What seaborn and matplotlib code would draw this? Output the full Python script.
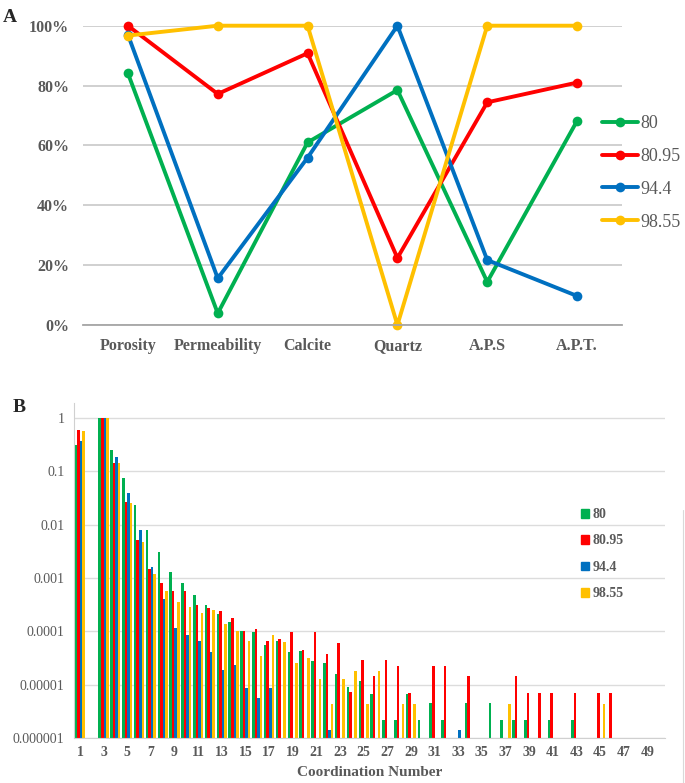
import numpy as np
import pandas as pd
import matplotlib.pyplot as plt
import seaborn as sns
from matplotlib.patches import Patch
from matplotlib.lines import Line2D
from matplotlib.ticker import PercentFormatter

# panel A data (fraction of max per property)
properties = ['Porosity', 'Permeability', 'Calcite', 'Quartz', 'A.P.S', 'A.P.T.']
series = ['80', '80.95', '94.4', '98.55']
colors = ['#00B050', '#FF0000', '#0070C0', '#FFC000']

a_80 = [0.841, 0.039, 0.610, 0.785, 0.144, 0.682]
a_8095 = [1.000, 0.772, 0.908, 0.224, 0.744, 0.810]
a_944 = [0.970, 0.156, 0.559, 1.000, 0.217, 0.097]
a_9855 = [0.967, 1.000, 1.000, 0.000, 1.000, 1.000]

# panel B data: coordination number -> frequency
coord = list(range(1, 51))
b_80 = {1: 0.31, 3: 1.0, 4: 0.25, 5: 0.074, 6: 0.023, 7: 0.0079, 8: 0.0031, 9: 0.0013,
        10: 0.0008, 11: 0.00048, 12: 0.00031, 13: 0.00021, 14: 0.000148, 15: 0.0001,
        16: 0.000097, 17: 0.000056, 18: 0.000065, 19: 0.000041, 20: 0.000043, 21: 0.000028,
        22: 0.000026, 23: 0.000016, 24: 0.000009, 25: 0.0000115, 26: 0.0000068, 27: 2.2e-6,
        28: 2.2e-6, 29: 6.8e-6, 30: 2.2e-6, 31: 4.5e-6, 32: 2.2e-6, 34: 4.5e-6, 36: 4.5e-6,
        37: 2.2e-6, 38: 2.2e-6, 39: 2.2e-6, 41: 2.2e-6, 43: 2.2e-6}
b_8095 = {1: 0.60, 3: 1.0, 4: 0.145, 5: 0.026, 6: 0.0051, 7: 0.0015, 8: 0.0008, 9: 0.00058,
          10: 0.00058, 11: 0.00031, 12: 0.00027, 13: 0.00024, 14: 0.000174, 15: 0.0001,
          16: 0.00011, 17: 0.000065, 18: 0.000073, 19: 0.000096, 20: 0.000044, 21: 0.000096,
          22: 0.000037, 23: 0.00006, 24: 7.3e-6, 25: 2.9e-5, 26: 1.48e-5, 27: 2.9e-5,
          28: 2.2e-5, 29: 7.1e-6, 31: 2.2e-5, 32: 2.2e-5, 34: 1.48e-5, 38: 1.48e-5,
          39: 7.1e-6, 40: 7.1e-6, 41: 7.1e-6, 43: 7.1e-6, 45: 7.1e-6, 46: 7.1e-6}
b_944 = {1: 0.37, 3: 1.0, 4: 0.185, 5: 0.039, 6: 0.0079, 7: 0.0016, 8: 0.00041, 9: 0.000115,
         10: 0.000085, 11: 0.000065, 12: 0.000041, 13: 0.000019, 14: 0.000023, 15: 8.7e-6,
         16: 5.7e-6, 17: 8.7e-6, 22: 1.4e-6, 33: 1.4e-6}
b_9855 = {1: 0.57, 3: 1.0, 4: 0.145, 5: 0.025, 6: 0.0048, 7: 0.0012, 8: 0.00056, 9: 0.00036,
          10: 0.00029, 11: 0.00022, 12: 0.00025, 13: 0.000135, 14: 0.000102, 15: 0.000065,
          16: 0.000035, 17: 0.000087, 18: 0.000062, 19: 0.000026, 20: 0.000031, 21: 0.000013,
          22: 4.4e-6, 23: 1.3e-5, 24: 1.8e-5, 25: 4.4e-6, 26: 1.8e-5, 28: 4.4e-6, 29: 4.4e-6,
          37: 4.4e-6, 45: 4.4e-6}

sns.set_style('white')
plt.rcParams['font.family'] = ['Liberation Serif', 'DejaVu Serif']
gray_txt = '#595959'

# long tables
dfa = pd.DataFrame({'pos': list(range(len(properties))) * 4,
                    'value': a_80 + a_8095 + a_944 + a_9855,
                    'series': np.repeat(series, len(properties))})

rows = []
for s, d in zip(series, [b_80, b_8095, b_944, b_9855]):
    for c in coord:
        if c in d:
            rows.append({'cn': str(c), 'freq': d[c], 'series': s})
dfb = pd.DataFrame(rows)

fig = plt.figure(figsize=(6.85, 7.83), dpi=100)
W, H = 685, 783

# ---- panel A
ax1 = fig.add_axes([83 / W, 1 - 325 / H, 539 / W, 299.3 / H])
sns.lineplot(data=dfa, x='pos', y='value', hue='series', hue_order=series, palette=colors,
             marker='o', markersize=7, markeredgewidth=0, linewidth=2.8, ax=ax1,
             clip_on=False, legend=False)
ax1.set_xlim(-0.5, len(properties) - 0.5)
ax1.set_ylim(0, 1)
ax1.set_yticks(np.arange(0, 1.01, 0.2))
ax1.yaxis.set_major_formatter(PercentFormatter(1.0, decimals=0))
ax1.set_xticks(range(len(properties)))
ax1.set_xticklabels(properties)
ax1.grid(axis='y', color='#C8C8C8', linewidth=1.2)
ax1.set_axisbelow(True)
for sp in ['left', 'right', 'top']:
    ax1.spines[sp].set_visible(False)
ax1.spines['bottom'].set_color('#A6A6A6')
ax1.spines['bottom'].set_linewidth(1.3)
ax1.tick_params(axis='both', length=0, labelcolor=gray_txt, labelsize=11.5)
ax1.tick_params(axis='x', pad=18)
ax1.tick_params(axis='y', pad=10)
for t in ax1.get_xticklabels():
    t.set_fontweight('bold')
    t.set_verticalalignment('baseline')
for t in ax1.get_yticklabels():
    t.set_fontweight('bold')
ax1.set_xlabel('')
ax1.set_ylabel('')

handles_a = [Line2D([], [], color=c, marker='o', markersize=7, linewidth=2.8,
                    markeredgewidth=0) for c in colors]
leg1 = fig.legend(handles_a, series, loc='upper left', bbox_to_anchor=(602 / W, 1 - 115 / H),
                  frameon=False, fontsize=13, handlelength=2.0, handletextpad=0.1,
                  labelspacing=0.88, labelcolor=gray_txt, borderpad=0, borderaxespad=0)

fig.text(3 / W, 1 - 18 / H, 'A', fontsize=14, fontweight='bold', va='center')

# ---- panel B (log frequency axis)
ax2 = fig.add_axes([74 / W, 1 - 738 / H, 591 / W, 335 / H])
sns.barplot(data=dfb, x='cn', y='freq', hue='series', order=[str(c) for c in coord],
            hue_order=series, palette=colors, width=0.86, gap=0,
            saturation=1, errorbar=None, edgecolor='none', linewidth=0, ax=ax2,
            legend=False)
ax2.set_yscale('log')
ax2.set_ylim(1e-6, 1.9)
ax2.set_yticks([1e-6, 1e-5, 1e-4, 1e-3, 1e-2, 1e-1, 1])
ax2.set_yticklabels(['0.000001', '0.00001', '0.0001', '0.001', '0.01', '0.1', '1'])
ax2.minorticks_off()
ax2.set_xlim(-0.5, len(coord) - 0.5)
ax2.set_xticks(range(0, len(coord), 2))
ax2.set_xticklabels([str(c) for c in coord[::2]])
ax2.grid(axis='y', color='#DCDCDC', linewidth=1.0)
ax2.set_axisbelow(True)
ax2.spines['right'].set_visible(False)
ax2.spines['top'].set_visible(False)
ax2.spines['left'].set_color('#D0D0D0')
ax2.spines['bottom'].set_color('#D0D0D0')
ax2.tick_params(axis='y', length=0, labelcolor=gray_txt, labelsize=10, pad=7)
ax2.tick_params(axis='x', length=0, labelcolor=gray_txt, labelsize=10, pad=6)
for t in ax2.get_xticklabels():
    t.set_fontweight('bold')
ax2.set_xlabel('Coordination Number', fontsize=11, fontweight='bold', color=gray_txt,
               labelpad=5)
ax2.set_ylabel('')

handles_b = [Patch(color=c) for c in colors]
leg2 = fig.legend(handles_b, series, loc='upper left', bbox_to_anchor=(581 / W, 1 - 508 / H),
                  frameon=False, handlelength=0.6, handleheight=0.6,
                  handletextpad=0.25, labelspacing=0.97, labelcolor=gray_txt,
                  prop={'weight': 'bold', 'size': 10}, borderpad=0, borderaxespad=0)

fig.text(13 / W, 1 - 408 / H, 'B', fontsize=14, fontweight='bold', va='center')

# thin chart-area border at the right of panel B
fig.add_artist(Line2D([683 / W, 683 / W], [0, 1 - 510 / H], color='#D9D9D9', linewidth=0.8))

fig.savefig('out.png', dpi=100)
